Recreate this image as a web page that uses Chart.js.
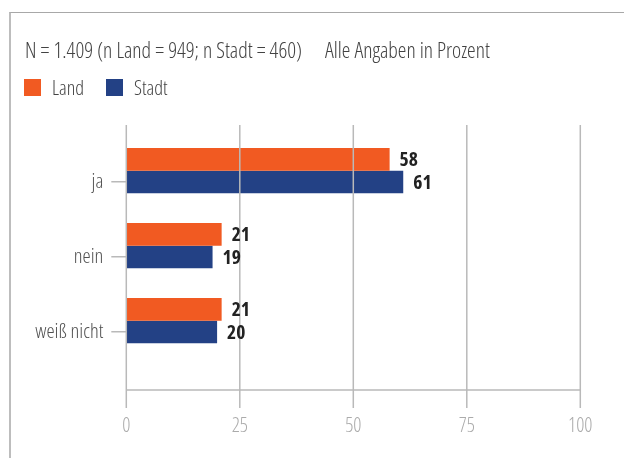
<!DOCTYPE html>
<html lang="de">
<head>
<meta charset="utf-8">
<script src="https://cdn.jsdelivr.net/npm/chart.js@4.4.1/dist/chart.umd.min.js"></script>
<style>
    html, body { margin: 0; padding: 0; background: #fff; }
    body { width: 624px; height: 458px; position: relative; overflow: hidden; }
    .frame {
        position: absolute; left: 9px; top: 12px; width: 700px; height: 500px;
        border-left: 2px solid #bdbdbd; border-top: 1.5px solid #a8a8a8;
    }
    .head, .legend {
        position: absolute; white-space: nowrap; color: #424242;
        font-family: 'Open Sans', sans-serif; font-weight: 300; font-stretch: 75%;
    }
    .head { left: 25px; top: 38.5px; font-size: 21.7px; line-height: 22px; }
    .head .note { margin-left: 23px; }
    .legend { left: 24px; top: 79px; height: 17px; font-size: 20px; line-height: 17px; display: flex; }
    .legend .item { display: inline-flex; align-items: center; margin-right: 22px; }
    .legend .box { display: inline-block; width: 17px; height: 17px; margin-right: 11px; }
    #chart { position: absolute; left: 0; top: 0; }
</style>
</head>
<body>
<div class="frame"></div>
<canvas id="chart" width="624" height="458"></canvas>
<div class="head" id="head"></div>
<div class="legend" id="legend"></div>
<script>
// Survey answers, percent
const categories = ['ja', 'nein', 'weiß nicht'];
const landValues = [58, 21, 21];
const stadtValues = [61, 19, 20];
const xTicks = [0, 25, 50, 75, 100];
const headText = 'N = 1.409 (n Land = 949; n Stadt = 460)';
const noteText = 'Alle Angaben in Prozent';

const ORANGE = '#f15a22';
const BLUE = '#234185';
const GRID = '#b9b9b9';
const FAMILY = "'Open Sans', sans-serif";
const LIGHT = '300 condensed';

const series = [
    { label: 'Land', data: landValues, color: ORANGE },
    { label: 'Stadt', data: stadtValues, color: BLUE }
];

// Header line and legend
document.getElementById('head').innerHTML =
    headText + '<span class="note">' + noteText + '</span>';
document.getElementById('legend').innerHTML = series.map(s =>
    `<span class="item"><span class="box" style="background:${s.color}"></span>${s.label}</span>`
).join('');

// Grid lines run above the bars and past the plot area, plus the base line
const gridOverlay = {
    id: 'gridOverlay',
    afterDatasetsDraw(chart) {
        const { ctx, chartArea, scales: { x } } = chart;
        const top = chartArea.top - 19.5;
        const bottom = chartArea.bottom + 38.5;
        const baseY = chartArea.bottom + 20.5;
        ctx.save();
        ctx.strokeStyle = GRID;
        ctx.lineWidth = 1.5;
        xTicks.forEach(v => {
            const px = x.getPixelForValue(v);
            ctx.beginPath();
            ctx.moveTo(px, top);
            ctx.lineTo(px, bottom);
            ctx.stroke();
        });
        ctx.beginPath();
        ctx.moveTo(x.getPixelForValue(xTicks[0]), baseY);
        ctx.lineTo(x.getPixelForValue(xTicks[xTicks.length - 1]), baseY);
        ctx.stroke();
        ctx.restore();
    }
};

// Value labels at the end of each bar
const valueLabels = {
    id: 'valueLabels',
    afterDatasetsDraw(chart) {
        const { ctx } = chart;
        ctx.save();
        ctx.font = `bold condensed 19.5px ${FAMILY}`;
        ctx.fillStyle = '#222';
        ctx.textBaseline = 'middle';
        ctx.textAlign = 'left';
        series.forEach((s, i) => {
            chart.getDatasetMeta(i).data.forEach((bar, j) => {
                ctx.fillText(s.data[j], bar.x + 10, bar.y + 1);
            });
        });
        ctx.restore();
    }
};

const ctx = document.getElementById('chart');

new Chart(ctx, {
    type: 'bar',
    data: {
        labels: categories,
        datasets: [
            ...series.map(s => ({
                label: s.label,
                data: s.data,
                backgroundColor: s.color,
                borderWidth: 0
            })),
            // empty third slot keeps the axis tick level with the Stadt bar
            { label: '', data: categories.map(() => null), backgroundColor: 'transparent' }
        ]
    },
    options: {
        indexAxis: 'y',
        responsive: false,
        animation: false,
        categoryPercentage: 0.907,
        barPercentage: 1,
        layout: { padding: { top: 144.5, right: 43.7, left: 0, bottom: 0 } },
        plugins: {
            legend: { display: false },
            tooltip: { enabled: false }
        },
        scales: {
            x: {
                min: 0,
                max: 100,
                afterBuildTicks: scale => { scale.ticks = xTicks.map(v => ({ value: v })); },
                afterFit: scale => {
                    scale.height = 88.5;
                    scale.paddingLeft = 0;
                    scale.paddingRight = 0;
                },
                grid: { display: false, drawTicks: false },
                border: { display: false },
                ticks: { color: '#ababab', padding: 44.5, font: { family: FAMILY, weight: LIGHT, size: 20 } }
            },
            y: {
                afterFit: scale => { scale.width = 126.3; },
                grid: {
                    offset: false,
                    drawOnChartArea: false,
                    drawTicks: true,
                    tickLength: 15,
                    color: GRID,
                    lineWidth: 1.5
                },
                border: { display: false },
                ticks: { color: '#505050', padding: 8, font: { family: FAMILY, weight: LIGHT, size: 20.5 } }
            }
        }
    },
    plugins: [gridOverlay, valueLabels]
});
</script>
</body>
</html>
